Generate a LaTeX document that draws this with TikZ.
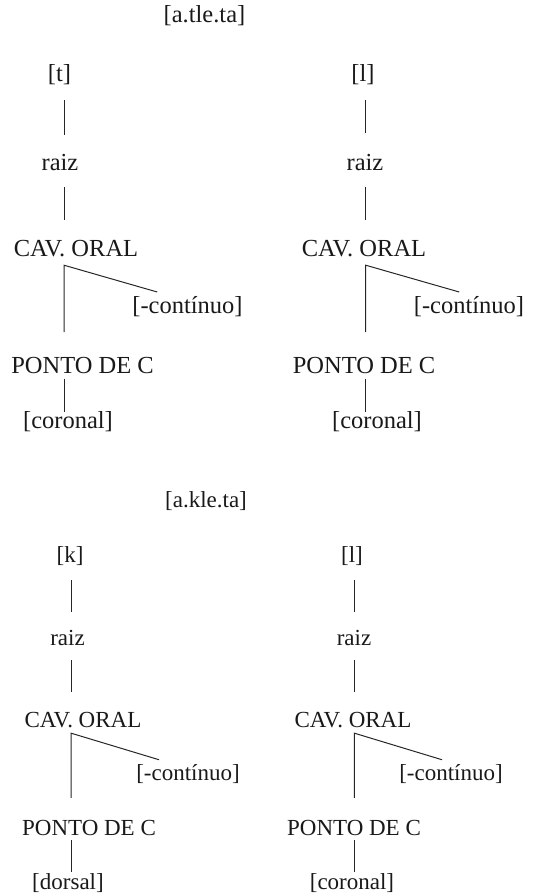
\documentclass[tikz,border=0pt]{standalone}
\usepackage{fontspec}
\setmainfont{Liberation Serif}
\usetikzlibrary{calc}
\begin{document}
\begin{tikzpicture}[x=1pt,y=-1pt,
  big/.style={anchor=base,inner sep=0pt,font=\fontsize{24.5}{28}\selectfont,text height=16.8pt,text depth=5.3pt,text=black!90},
  small/.style={anchor=base,inner sep=0pt,font=\fontsize{23}{26}\selectfont,text height=15.75pt,text depth=4.95pt,text=black!90},
  edge/.style={draw=black!85,line width=1pt}]
\useasboundingbox (0,0) rectangle (542,894);
% ---------- top: [a.tle.ta] ----------
\node[big] (ttl1) at (204.5,22) {[a.tle.ta]};
% left tree
\coordinate (ax1) at (64,0);
\node[big] (t1) at (59.5,81) {[t]};
\node[big] (r1) at (60,170) {raiz};
\node[big] (c1) at (76,256) {CAV. ORAL};
\node[big] (n1) at (187.5,313) {[-contínuo]};
\node[big] (p1) at (82.5,373) {PONTO DE C};
\node[big] (f1) at (68,428) {[coronal]};
\coordinate (d1) at ($(n1.north west)+(25,-4)$);
\draw[edge] ($(t1.south -| ax1)+(0,13.7)$) -- ($(r1.north -| ax1)+(0,-18)$);
\draw[edge] ($(r1.south -| ax1)+(0,11.7)$) -- ($(c1.north -| ax1)+(0,-19)$);
\draw[edge] ($(p1.north -| ax1)+(0,-24)$) -- ($(c1.south -| ax1)+(0,3.7)$) -- (d1);
\draw[edge] ($(p1.south -| ax1)+(0,0)$) -- ($(f1.north -| ax1)+(0,0.5)$);
% right tree
\coordinate (ax2) at (365.7,0);
\node[big] (l1) at (363,81) {[l]};
\node[big] (r2) at (365,170) {raiz};
\node[big] (c2) at (364,256) {CAV. ORAL};
\node[big] (n2) at (469,313) {[-contínuo]};
\node[big] (p2) at (364,373) {PONTO DE C};
\node[big] (f2) at (377,428) {[coronal]};
\coordinate (d2) at ($(n2.north west)+(45.5,-4)$);
\draw[edge] ($(l1.south -| ax2)+(0,13.7)$) -- ($(r2.north -| ax2)+(0,-20)$);
\draw[edge] ($(r2.south -| ax2)+(0,11.7)$) -- ($(c2.north -| ax2)+(0,-19)$);
\draw[edge] ($(p2.north -| ax2)+(0,-24)$) -- ($(c2.south -| ax2)+(0,3.7)$) -- (d2);
\draw[edge] ($(p2.south -| ax2)+(0,0)$) -- ($(f2.north -| ax2)+(0,0.5)$);
% ---------- bottom: [a.kle.ta] ----------
\node[small] (ttl2) at (206,507) {[a.kle.ta]};
% left tree
\coordinate (ax3) at (71,0);
\node[small] (k3) at (70,562) {[k]};
\node[small] (r3) at (67.5,645) {raiz};
\node[small] (c3) at (83,727) {CAV. ORAL};
\node[small] (n3) at (188,780) {[-contínuo]};
\node[small] (p3) at (89,835) {PONTO DE C};
\node[small] (f3) at (68,889) {[dorsal]};
\coordinate (d3) at ($(n3.north west)+(23,-4.3)$);
\draw[edge] ($(k3.south -| ax3)+(0,13)$) -- ($(r3.north -| ax3)+(0,-17.3)$);
\draw[edge] ($(r3.south -| ax3)+(0,10)$) -- ($(c3.north -| ax3)+(0,-19.3)$);
\draw[edge] ($(p3.north -| ax3)+(0,-21.3)$) -- ($(c3.south -| ax3)+(0,1)$) -- (d3);
\draw[edge] ($(p3.south -| ax3)+(0,0)$) -- ($(f3.north -| ax3)+(0,-1.3)$);
% right tree
\coordinate (ax4) at (354.3,0);
\node[small] (l4) at (352,562) {[l]};
\node[small] (r4) at (354,645) {raiz};
\node[small] (c4) at (353,727) {CAV. ORAL};
\node[small] (n4) at (451,780) {[-contínuo]};
\node[small] (p4) at (354,835) {PONTO DE C};
\node[small] (f4) at (352,889) {[coronal]};
\coordinate (d4) at ($(n4.north west)+(43,-4.3)$);
\draw[edge] ($(l4.south -| ax4)+(0,13)$) -- ($(r4.north -| ax4)+(0,-17.3)$);
\draw[edge] ($(r4.south -| ax4)+(0,10)$) -- ($(c4.north -| ax4)+(0,-19.3)$);
\draw[edge] ($(p4.north -| ax4)+(0,-21.3)$) -- ($(c4.south -| ax4)+(0,1)$) -- (d4);
\draw[edge] ($(p4.south -| ax4)+(0,0)$) -- ($(f4.north -| ax4)+(0,-1.3)$);
\end{tikzpicture}
\end{document}
